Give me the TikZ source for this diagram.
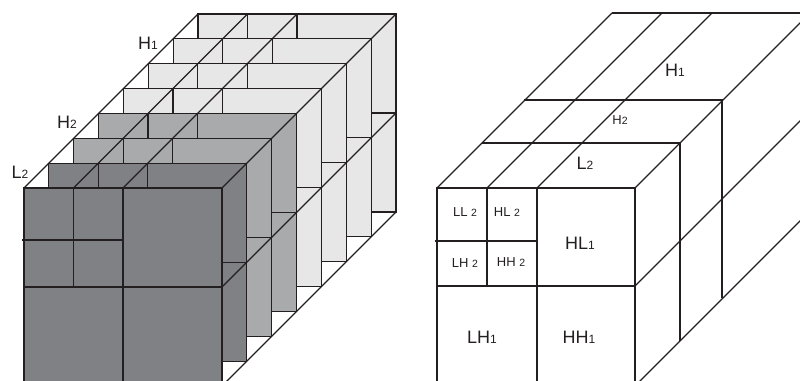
\documentclass[tikz,border=0pt]{standalone}
\usepackage{fontspec}
\setmainfont{Liberation Sans}
\definecolor{dk}{RGB}{128,129,133}
\definecolor{md}{RGB}{169,170,172}
\definecolor{lt}{RGB}{231,231,231}
\definecolor{ln}{RGB}{35,31,32}
\newcommand\biglab[2]{{\fontsize{18}{18}\selectfont #1}{\fontsize{12}{12}\selectfont #2}}
\newcommand\midlab[2]{{\fontsize{13}{13}\selectfont #1}{\fontsize{10.5}{10.5}\selectfont #2}}
\begin{document}
\begin{tikzpicture}[x=1pt,y=-1pt]
\tikzset{
  edge/.style={draw=ln, line width=1.25pt},
  slab/.style={edge, line join=miter},
  lbl/.style={inner sep=0pt, text=ln}
}
\useasboundingbox (0,0) rectangle (800,380);
\begin{scope}
\clip (0,0) rectangle (800,380);
% ---------- left figure: slices from back to front ----------
\foreach \k/\c in {7/lt,6/lt,5/lt,4/lt,3/md,2/md,1/dk,0/dk} {
  \pgfmathsetmacro\sx{24+24.86*\k}
  \pgfmathsetmacro\sy{188-24.86*\k}
  \begin{scope}[shift={(\sx,\sy)}]
    \filldraw[slab, fill=\c] (0,0) rectangle (198,198);
    \draw[edge] (49.5,0) -- (49.5,99);
    \draw[edge] (99,0) -- (99,198);
    \draw[edge] (0,99) -- (198,99);
    \draw[edge] (-2,52) -- (99,52);
  \end{scope}
}
\foreach \p in {(24,188),(73.5,188),(123,188),(222,188),(222,287),(222,386)}
  \draw[edge] \p -- ++(174,-174);
% ---------- right figure ----------
\coordinate (RF) at (437,188);
\draw[slab] (437,188) rectangle (635,386);
\draw[edge] (487,188) -- (487,286);
\draw[edge] (537,188) -- (537,386);
\draw[edge] (437,286) -- (635,286);
\draw[edge] (435,241) -- (537,241);
\foreach \p in {(437,188),(487,188),(537,188),(635,188),(635,286),(635,386)}
  \draw[edge] \p -- ++(175,-175);
\draw[slab] (482,143) -- (680,143) -- (680,341);
\draw[slab] (524,100) -- (722,100) -- (722,298);
\draw[edge] (612,13) -- (810,13);
\end{scope}
% ---------- labels ----------
\node[lbl] (lH1) at (148,43) {\biglab{H}{1}};
\node[lbl] (lH2) at (67,122) {\biglab{H}{2}};
\node[lbl] (lL2) at (20,172) {\biglab{L}{2}};
\node[lbl] (rH1) at (675,70) {\biglab{H}{1}};
\node[lbl] (rH2) at (620,120) {\midlab{H}{2}};
\node[lbl] (rL2) at (585,163) {\biglab{L}{2}};
\node[lbl] (LL2) at (465,212) {\midlab{LL }{2}};
\node[lbl] (HL2) at (507,212) {\midlab{HL }{2}};
\node[lbl] (LH2) at (465,263) {\midlab{LH }{2}};
\node[lbl] (HH2) at (511,262) {\midlab{HH }{2}};
\node[lbl] (HL1) at (580,243) {\biglab{HL}{1}};
\node[lbl] (LH1) at (482,337) {\biglab{LH}{1}};
\node[lbl] (HH1) at (579,337) {\biglab{HH}{1}};
\end{tikzpicture}
\end{document}
